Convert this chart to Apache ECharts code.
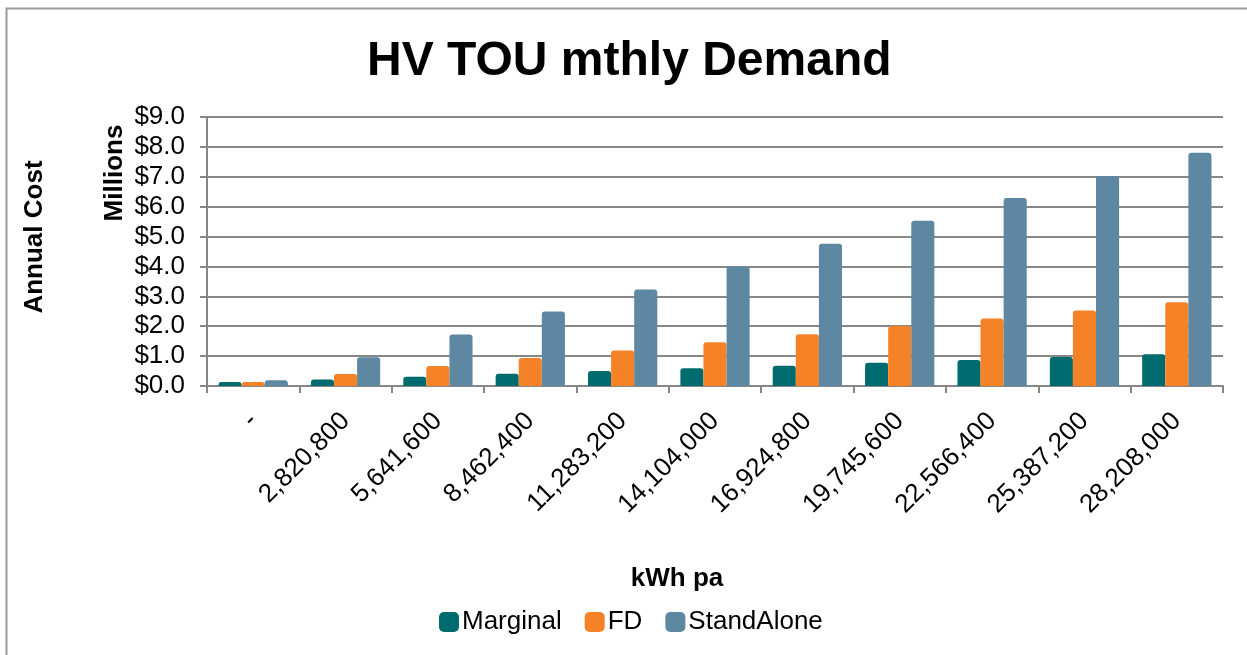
<!DOCTYPE html>
<html>
<head>
<meta charset="utf-8">
<script src="https://cdn.jsdelivr.net/npm/echarts@6/dist/echarts.min.js"></script>
<style>
  html, body { margin: 0; padding: 0; background: #fff; }
  #chart { width: 1247px; height: 655px; }
</style>
</head>
<body>
<div id="chart"></div>
<script>
// 数据
const categories = ['-', '2,820,800', '5,641,600', '8,462,400', '11,283,200', '14,104,000',
  '16,924,800', '19,745,600', '22,566,400', '25,387,200', '28,208,000']
const marginal = [0.13, 0.22, 0.31, 0.41, 0.50, 0.59, 0.68, 0.78, 0.87, 0.97, 1.06]
const fd = [0.13, 0.40, 0.67, 0.94, 1.19, 1.46, 1.73, 2.01, 2.26, 2.53, 2.80]
const standAlone = [0.19, 0.96, 1.72, 2.49, 3.23, 4.00, 4.76, 5.53, 6.29, 7.03, 7.80]

const font = 'Liberation Sans, Arial, sans-serif'
const gridColor = '#878787'

const chart = echarts.init(document.getElementById('chart'))

const barSeries = (name, data, color) => ({
  name: name,
  type: 'bar',
  data: data,
  barGap: '0%',
  barCategoryGap: '25%',
  itemStyle: {
    color: color,
    borderRadius: [3, 3, 0, 0]
  }
})

const option = {
  animation: false,
  title: {
    text: 'HV TOU mthly Demand',
    left: 362,
    top: 33,
    textStyle: { fontFamily: font, fontSize: 48, fontWeight: 'bold', color: '#000' }
  },
  graphic: [
    {
      type: 'rect',
      shape: { x: 6.5, y: 8.5, width: 1260, height: 670 },
      style: { fill: 'none', stroke: '#9a9a9a', lineWidth: 2 },
      silent: true
    },
    {
      type: 'text',
      x: 35, y: 237, rotation: Math.PI / 2,
      style: { text: 'Annual Cost', font: 'bold 26px ' + font, fill: '#000', align: 'center', verticalAlign: 'middle' }
    },
    {
      type: 'text',
      x: 115, y: 173, rotation: Math.PI / 2,
      style: { text: 'Millions', font: 'bold 26px ' + font, fill: '#000', align: 'center', verticalAlign: 'middle' }
    },
    {
      type: 'text',
      x: 677, y: 579,
      style: { text: 'kWh pa', font: 'bold 26px ' + font, fill: '#000', align: 'center', verticalAlign: 'middle' }
    }
  ],
  legend: {
    top: 609,
    left: 439,
    padding: 0,
    itemWidth: 20,
    itemHeight: 20,
    itemGap: 23,
    icon: 'roundRect',
    textStyle: { fontFamily: font, fontSize: 26, color: '#000', padding: [0, 0, 0, -2] },
    data: ['Marginal', 'FD', 'StandAlone']
  },
  grid: { left: 207, right: 24, top: 117, bottom: 269 },
  xAxis: {
    type: 'category',
    data: categories,
    axisLine: { lineStyle: { color: gridColor, width: 2 } },
    axisTick: { show: true, length: 7, lineStyle: { color: gridColor, width: 2 } },
    axisLabel: { rotate: 45, fontFamily: font, fontSize: 26, color: '#000', margin: 31 }
  },
  yAxis: {
    type: 'value',
    min: 0,
    max: 9,
    interval: 1,
    axisLine: { show: true, lineStyle: { color: gridColor, width: 2 } },
    axisTick: { show: true, length: 7, lineStyle: { color: gridColor, width: 2 } },
    splitLine: { lineStyle: { color: gridColor, width: 2 } },
    axisLabel: {
      fontFamily: font, fontSize: 26, color: '#000', margin: 22,
      formatter: v => '$' + v.toFixed(1)
    }
  },
  series: [
    barSeries('Marginal', marginal, '#006B6E'),
    barSeries('FD', fd, '#F58226'),
    barSeries('StandAlone', standAlone, '#5E87A1')
  ]
}

chart.setOption(option)
</script>
</body>
</html>
